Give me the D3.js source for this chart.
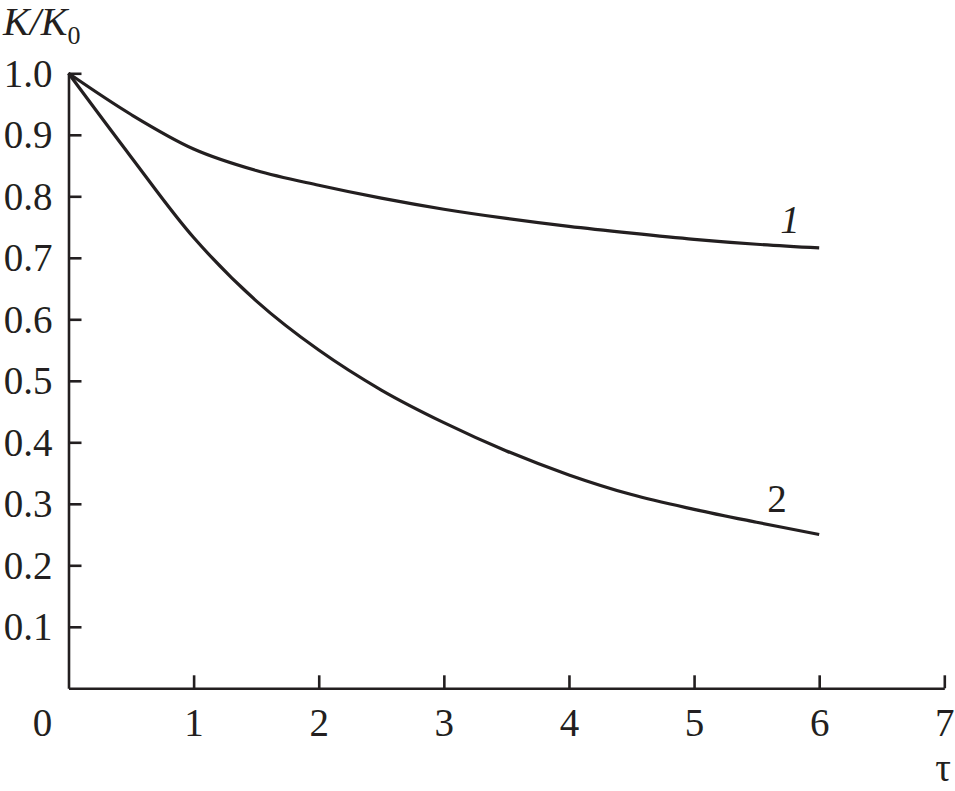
<!DOCTYPE html>
<html>
<head>
<meta charset="utf-8">
<script src="https://cdn.jsdelivr.net/npm/d3@7"></script>
<style>
  body { margin: 0; background: #fff; }
  text { font-family: "Liberation Serif", "Times New Roman", serif; fill: #231f20; }
</style>
</head>
<body>
<div id="chart"></div>
<script>
// data
var tau = [0, 0.5, 1, 1.5, 2, 2.5, 3, 3.5, 4, 4.5, 5, 5.5, 6];
var curve1 = [1.0, 0.933, 0.877, 0.842, 0.818, 0.797, 0.779, 0.764, 0.751, 0.740, 0.730, 0.722, 0.716];
var curve2 = [1.0, 0.864, 0.733, 0.630, 0.550, 0.485, 0.432, 0.386, 0.347, 0.315, 0.291, 0.270, 0.250];
var xTicks = [1, 2, 3, 4, 5, 6, 7];
var yTicks = [0.1, 0.2, 0.3, 0.4, 0.5, 0.6, 0.7, 0.8, 0.9, 1.0];

var width = 955, height = 791;
var ink = "#231f20";

var svg = d3.select("#chart")
    .append("svg")
    .attr("width", width)
    .attr("height", height);

var x = d3.scaleLinear().domain([0, 7]).range([68.5, 944.3]);
var y = d3.scaleLinear().domain([0, 1]).range([688.3, 73.3]);

// x axis, ticks pointing inward
var gx = svg.append("g")
    .attr("transform", "translate(0," + y(0) + ")")
    .call(d3.axisBottom(x).tickValues(xTicks).tickSizeInner(-13).tickSizeOuter(0).tickFormat(d3.format("d")));
gx.selectAll("text").attr("y", 48).attr("dy", 0).style("font-size", "39px");

// y axis
var gy = svg.append("g")
    .attr("transform", "translate(" + x(0) + ",0)")
    .call(d3.axisLeft(y).tickValues(yTicks).tickSizeInner(-13).tickSizeOuter(0).tickFormat(d3.format(".1f")));
gy.selectAll("text").attr("x", -16).attr("dy", 13).style("font-size", "39px");

svg.selectAll(".domain, .tick line")
    .attr("stroke", ink)
    .attr("stroke-width", 2.6);
svg.selectAll(".tick text").style("fill", ink).style("font-family", "'Liberation Serif', serif");

// origin label
svg.append("text")
    .attr("x", x(0) - 26)
    .attr("y", 736)
    .attr("text-anchor", "middle")
    .style("font-size", "39px")
    .text("0");

// axis titles
svg.append("text")
    .attr("x", 943)
    .attr("y", 781)
    .attr("text-anchor", "middle")
    .style("font-size", "39px")
    .text("τ");

var yl = svg.append("text")
    .attr("x", 3)
    .attr("y", 35)
    .style("font-size", "40px");
yl.append("tspan").style("font-style", "italic").text("K/K");
yl.append("tspan").attr("dy", 9).style("font-size", "26px").text("0");

// curves
var line = d3.line()
    .x(function(d){ return x(d[0]) })
    .y(function(d){ return y(d[1]) })
    .curve(d3.curveCatmullRom.alpha(0.5));

[curve1, curve2].forEach(function(vals) {
    svg.append("path")
        .datum(tau.map(function(t, i){ return [t, vals[i]] }))
        .attr("d", line)
        .attr("fill", "none")
        .attr("stroke", ink)
        .attr("stroke-width", 3.2)
        .attr("stroke-linejoin", "round");
});

// curve labels
svg.append("text")
    .attr("x", 790)
    .attr("y", 233)
    .attr("text-anchor", "middle")
    .style("font-size", "39px")
    .style("font-style", "italic")
    .text("1");

svg.append("text")
    .attr("x", 777)
    .attr("y", 512)
    .attr("text-anchor", "middle")
    .style("font-size", "39px")
    .text("2");
</script>
</body>
</html>
